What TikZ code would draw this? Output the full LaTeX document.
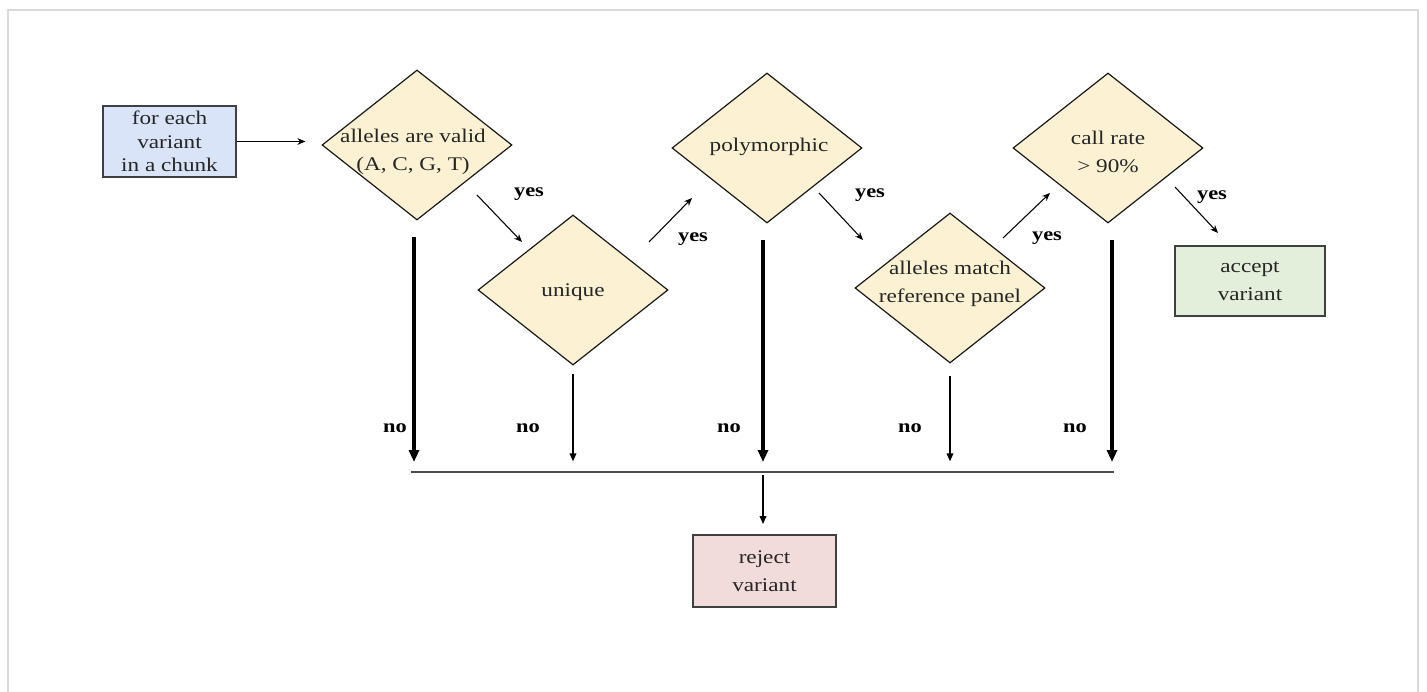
\documentclass[tikz,border=0pt]{standalone}
\usepackage{fontspec}
\setmainfont{Liberation Serif}[FakeStretch=1.2]
\usetikzlibrary{shapes.geometric,arrows.meta,calc}
\definecolor{diafill}{HTML}{FDF1D3}
\definecolor{startfill}{HTML}{D9E4F8}
\definecolor{acceptfill}{HTML}{E3EFDA}
\definecolor{rejectfill}{HTML}{F2DCDB}
\definecolor{boxline}{HTML}{404040}
\definecolor{txtcol}{HTML}{262626}
\definecolor{framecol}{HTML}{DADADA}
\begin{document}
\begin{tikzpicture}[x=0.75pt,y=-0.75pt,
  dia/.style={diamond, draw=black!90, line width=0.9pt, fill=diafill,
    minimum width=142.5pt, minimum height=112.5pt, inner sep=0pt},
  rbox/.style={rectangle, draw=boxline, line width=1.5pt, inner sep=0pt},
  txt/.style={align=center, font=\fontsize{14.5}{21}\selectfont, text=txtcol, inner sep=0pt},
  lab/.style={font=\bfseries\fontsize{14}{14}\selectfont, inner sep=0pt},
  thickno/.style={line width=2.3pt, -{Triangle[length=9pt,width=7.5pt]}},
  thinno/.style={line width=1pt, -{Triangle[length=6pt,width=5pt]}},
  yesarr/.style={line width=0.8pt, -{Stealth[length=6pt,width=5pt]}}
]
\useasboundingbox (0,0) rectangle (1427,692);
\draw[framecol, line width=1.2pt] (8,10) rectangle (1418,720);

% start box
\node[rbox, fill=startfill, minimum width=99.75pt, minimum height=53.25pt] (start) at (169.5,141.5) {};
\node[txt, font=\fontsize{14.5}{17.5}\selectfont] (startt) at (start) {for each\\variant\\in a chunk};

% diamonds
\node[dia] (d1) at (417,145) {};
\node[txt] (d1t) at (413,152) {alleles are valid\\(A, C, G, T)};
\node[dia] (d2) at (573,290) {};
\node[txt] (d2t) at (573,292) {unique};
\node[dia] (d3) at (767,148) {};
\node[txt] (d3t) at (769,147) {polymorphic};
\node[dia] (d4) at (950,288) {};
\node[txt] (d4t) at (950,284) {alleles match\\reference panel};
\node[dia] (d5) at (1108,148) {};
\node[txt] (d5t) at (1108,152) {call rate\\> 90\%};

% result boxes
\node[rbox, fill=acceptfill, minimum width=112.5pt, minimum height=52.5pt] (accept) at (1250,281) {};
\node[txt] (acceptt) at (accept) {accept\\variant};
\node[rbox, fill=rejectfill, minimum width=107.25pt, minimum height=54pt] (reject) at (764.5,571) {};
\node[txt] (rejectt) at (reject) {reject\\variant};

% entry arrow
\draw[line width=1.1pt, -{Stealth[length=6pt,width=5pt]}, shorten >=12pt] (start.east) -- (start.east -| d1.west);

% yes arrows
\coordinate (y1a) at (477,195); \coordinate (y1b) at (522,242);
\coordinate (y2a) at (649,242); \coordinate (y2b) at (692,198);
\coordinate (y3a) at (819,193); \coordinate (y3b) at (863,240);
\coordinate (y4a) at (1003,238); \coordinate (y4b) at (1050,193);
\coordinate (y5a) at (1175,187); \coordinate (y5b) at (1218,233);
\draw[yesarr] (y1a) -- (y1b);
\draw[yesarr] (y2a) -- (y2b);
\draw[yesarr] (y3a) -- (y3b);
\draw[yesarr] (y4a) -- (y4b);
\draw[yesarr] (y5a) -- (y5b);
\node[lab] (yl1) at (529,194) {yes};
\node[lab] (yl2) at (693,239) {yes};
\node[lab] (yl3) at (870,195) {yes};
\node[lab] (yl4) at (1047,238) {yes};
\node[lab] (yl5) at (1212,197) {yes};

% bus
\coordinate (bL) at (411,472);
\coordinate (bR) at (1114,472);
\draw[line width=1.6pt, black!70] (bL) -- (bR);
\coordinate (b1) at (414,472);
\coordinate (b2) at (573,472);
\coordinate (b3) at (763,472);
\coordinate (b4) at (950,472);
\coordinate (b5) at (1112,472);

% no arrows
\draw[thickno, shorten >=7.5pt] (414,237) -- (b1);
\draw[thinno, shorten >=8pt] ($(d2.south)+(0,8)$) -- (b2);
\draw[thickno, shorten >=7.5pt] (763,240) -- (b3);
\draw[thinno, shorten >=8pt] ($(d4.south)+(0,12)$) -- (b4);
\draw[thickno, shorten >=7.5pt] (1112,240) -- (b5);
\node[lab] (nl1) at (395,428) {no};
\node[lab] (nl2) at (528,428) {no};
\node[lab] (nl3) at (729,428) {no};
\node[lab] (nl4) at (910,428) {no};
\node[lab] (nl5) at (1075,428) {no};

% to reject
\draw[thinno, shorten <=2pt, shorten >=7.5pt] (b3) -- (b3 |- reject.north);
\end{tikzpicture}
\end{document}
